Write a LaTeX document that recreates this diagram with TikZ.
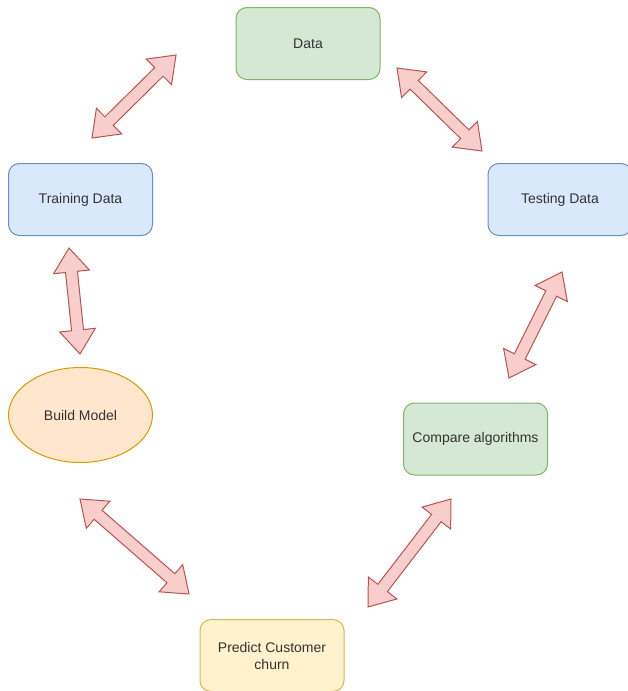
\documentclass[tikz,border=0pt]{standalone}
\usepackage{fontspec}
\setmainfont{Liberation Sans}
\usetikzlibrary{calc,shapes.geometric}
\definecolor{gfill}{HTML}{D5E8D4}\definecolor{gline}{HTML}{82B366}
\definecolor{bfill}{HTML}{DAE8FC}\definecolor{bline}{HTML}{6C8EBF}
\definecolor{ofill}{HTML}{FFE6CC}\definecolor{oline}{HTML}{D79B00}
\definecolor{yfill}{HTML}{FFF2CC}\definecolor{yline}{HTML}{D6B656}
\definecolor{afill}{HTML}{F8CECC}\definecolor{aline}{HTML}{B85450}
\definecolor{txt}{HTML}{333333}
\tikzset{
  box/.style={draw, rounded corners=11pt, line width=1pt, minimum width=144pt, minimum height=72pt, inner sep=0pt, align=center, text=txt, font=\fontsize{14}{17}\selectfont},
  greenbox/.style={box, fill=gfill, draw=gline},
  bluebox/.style={box, fill=bfill, draw=bline},
  yellowbox/.style={box, fill=yfill, draw=yline},
  orangeell/.style={ellipse, draw=oline, fill=ofill, line width=1pt, minimum width=144pt, minimum height=95pt, inner sep=0pt, text=txt, font=\fontsize{14}{17}\selectfont},
  blockarr/.style={draw=aline, fill=afill, line width=1pt, line join=miter}
}
\newcommand{\dblarrow}[2]{%
\draw[blockarr] (#1)
 -- ($(#1)!24pt!(#2)!18pt!90:(#2)$)
 -- ($(#1)!24pt!(#2)!6pt!90:(#2)$)
 -- ($(#2)!24pt!(#1)!6pt!-90:(#1)$)
 -- ($(#2)!24pt!(#1)!18pt!-90:(#1)$)
 -- (#2)
 -- ($(#2)!24pt!(#1)!18pt!90:(#1)$)
 -- ($(#2)!24pt!(#1)!6pt!90:(#1)$)
 -- ($(#1)!24pt!(#2)!6pt!-90:(#2)$)
 -- ($(#1)!24pt!(#2)!18pt!-90:(#2)$)
 -- cycle;}
\begin{document}
\begin{tikzpicture}[x=1pt,y=-1pt]
\useasboundingbox (0,0) rectangle (628,691);
\node[greenbox] (data) at (308,43.5) {Data};
\node[bluebox] (train) at (80.5,199.5) {Training Data};
\node[bluebox] (test) at (560,199.5) {Testing Data};
\node[orangeell] (build) at (80.5,415) {Build Model};
\node[greenbox] (comp) at (475.5,439) {Compare algorithms};
\node[yellowbox] (pred) at (272,655.5) {Predict Customer\\churn};
\coordinate (a1s) at (92,138);  \coordinate (a1e) at (176,55);
\coordinate (a2s) at (397,68);  \coordinate (a2e) at (482,151);
\coordinate (a3s) at (69,248);  \coordinate (a3e) at (80,354);
\coordinate (a4s) at (562,272); \coordinate (a4e) at (509,378);
\coordinate (a5s) at (80,499);  \coordinate (a5e) at (189,594);
\coordinate (a6s) at (451,499); \coordinate (a6e) at (368,607);
\dblarrow{a1s}{a1e}
\dblarrow{a2s}{a2e}
\dblarrow{a3s}{a3e}
\dblarrow{a4s}{a4e}
\dblarrow{a5s}{a5e}
\dblarrow{a6s}{a6e}
\end{tikzpicture}
\end{document}
